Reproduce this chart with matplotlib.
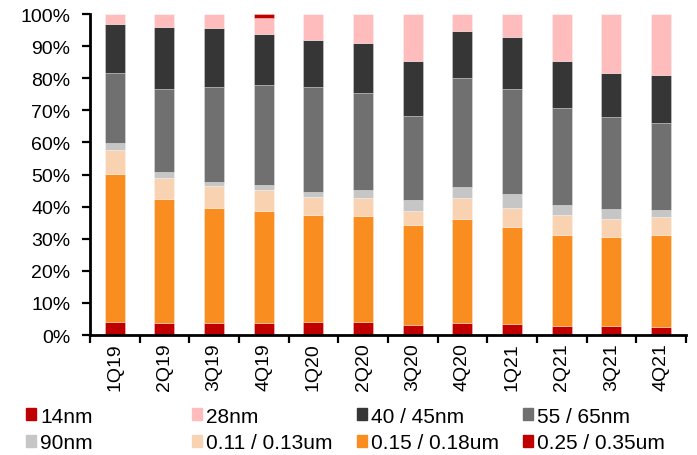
import matplotlib.pyplot as plt
import numpy as np
from matplotlib.patches import Patch
from matplotlib.ticker import FixedLocator, PercentFormatter

plt.rcParams['font.family'] = ['Liberation Sans', 'DejaVu Sans']

quarters = ['1Q19', '2Q19', '3Q19', '4Q19', '1Q20', '2Q20',
            '3Q20', '4Q20', '1Q21', '2Q21', '3Q21', '4Q21']

# share of revenue by node (%), stacked bottom to top
node_025_035um = [4.0, 3.7, 3.7, 3.7, 4.0, 4.0, 3.1, 3.7, 3.3, 2.9, 2.8, 2.6]
node_015_018um = [46.2, 38.7, 35.9, 35.0, 33.5, 33.1, 31.3, 32.4, 30.3, 28.3, 27.8, 28.6]
node_011_013um = [7.4, 6.5, 6.9, 6.5, 5.5, 5.6, 4.3, 6.6, 6.1, 6.2, 5.5, 5.5]
node_90nm = [2.2, 1.8, 1.3, 1.5, 1.5, 2.6, 3.4, 3.3, 4.2, 3.1, 3.1, 2.3]
node_55_65nm = [21.8, 26.1, 29.4, 31.2, 32.8, 30.1, 26.1, 34.1, 32.9, 30.1, 28.7, 27.0]
node_40_45nm = [15.4, 19.2, 18.3, 15.9, 14.7, 15.5, 17.1, 14.7, 16.1, 14.7, 13.7, 15.1]
node_28nm = [3.0, 4.0, 4.5, 5.0, 8.0, 9.1, 14.7, 5.2, 7.1, 14.7, 18.4, 18.9]
node_14nm = [0, 0, 0, 1.2, 0, 0, 0, 0, 0, 0, 0, 0]

series = [
    ('0.25 / 0.35um', node_025_035um, '#c00000'),
    ('0.15 / 0.18um', node_015_018um, '#f98d20'),
    ('0.11 / 0.13um', node_011_013um, '#f9d2b1'),
    ('90nm', node_90nm, '#c6c6c6'),
    ('55 / 65nm', node_55_65nm, '#707070'),
    ('40 / 45nm', node_40_45nm, '#363636'),
    ('28nm', node_28nm, '#ffbcbc'),
    ('14nm', node_14nm, '#c00000'),
]

FS = 14

fig = plt.figure(figsize=(6.97, 4.56), dpi=100)
ax = fig.add_axes([0.129, 0.263, 0.855, 0.704])

x = np.arange(len(quarters))
bottom = np.zeros(len(quarters))
colors = {}
for name, vals, color in series:
    vals = np.array(vals)
    ax.bar(x, vals, width=0.4, bottom=bottom, color=color,
           edgecolor=(1, 1, 1, 0.35), linewidth=0.6)
    bottom += vals
    colors[name] = color

ax.set_xlim(-0.5, len(quarters) - 0.5)
ax.set_ylim(0, 100)
ax.yaxis.set_major_locator(FixedLocator(np.arange(0, 101, 10)))
ax.yaxis.set_major_formatter(PercentFormatter(decimals=0))

# tick marks sit between the bars, labels under each bar
ax.xaxis.set_major_locator(FixedLocator(np.arange(-0.5, len(quarters), 1)))
ax.xaxis.set_major_formatter(plt.NullFormatter())
ax.set_xticks(x, quarters, minor=True, rotation=90)
ax.tick_params(axis='x', which='minor', length=0, pad=5, labelsize=FS)
ax.tick_params(axis='x', which='major', length=6, width=1.6, direction='out')
ax.tick_params(axis='y', length=6, width=1.6, labelsize=FS, pad=8)

for side in ['top', 'right']:
    ax.spines[side].set_visible(False)
for side in ['left', 'bottom']:
    ax.spines[side].set_linewidth(2)

legend_cols = [
    ['14nm', '90nm'],
    ['28nm', '0.11 / 0.13um'],
    ['40 / 45nm', '0.15 / 0.18um'],
    ['55 / 65nm', '0.25 / 0.35um'],
]
col_x = [0.037, 0.2755, 0.512, 0.750]
for cx, names in zip(col_x, legend_cols):
    handles = [Patch(color=colors[n]) for n in names]
    fig.legend(handles, names, loc='upper left', bbox_to_anchor=(cx, 0.106),
               frameon=False, fontsize=15, handlelength=0.48, handleheight=0.48,
               handletextpad=0.2, labelspacing=0.37, borderpad=0, borderaxespad=0)

fig.savefig('out.png', dpi=100)
